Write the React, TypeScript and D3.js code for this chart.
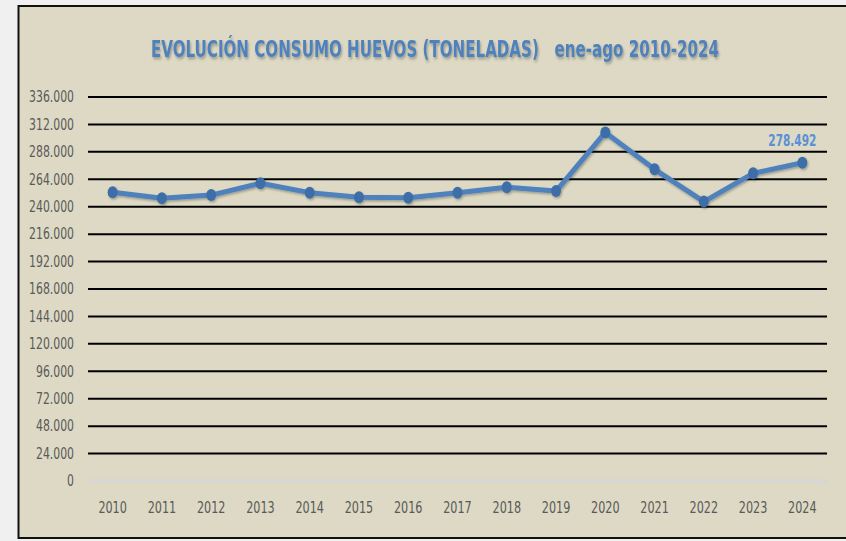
import React from 'react';
import * as d3 from 'd3';

const years = ["2010", "2011", "2012", "2013", "2014", "2015", "2016", "2017", "2018", "2019", "2020", "2021", "2022", "2023", "2024"];
const tons = [252600, 247400, 250200, 260500, 252300, 248200, 247900, 252200, 257000, 253700, 305000, 272700, 244500, 269200, 278492];
const yTicks = [0, 24000, 48000, 72000, 96000, 120000, 144000, 168000, 192000, 216000, 240000, 264000, 288000, 312000, 336000];

const W = 846;
const H = 541;
const font = "'Liberation Sans Narrow', 'DejaVu Sans Condensed', 'Arial Narrow', sans-serif";

// 24000 -> "24.000"
const fmt = (v: number) => v === 0 ? "0" : d3.format(",")(v).replace(/,/g, ".");
// narrow width like Calibri's digits
const numWidth = (s: string) => s.replace(/\./g, "").length * 6.9 + (s.includes(".") ? 3.5 : 0);

function App() {
    const left = 88, right = 827, top = 97, bottom = 481;

    const x = d3.scaleBand<string>()
        .domain(years)
        .range([left, right]);

    const y = d3.scaleLinear()
        .domain([0, 336000])
        .range([bottom, top]);

    const cx = (d: string) => (x(d) as number) + x.bandwidth() / 2;

    const line = d3.line<number>()
        .x((_, i) => cx(years[i]))
        .y(d => y(d));

    const last = tons.length - 1;

    return (
        <svg width={W} height={H} style={{ position: 'fixed', left: 0, top: 0 }}>
            <defs>
                <filter id="sh" x="-10%" y="-30%" width="120%" height="160%">
                    <feDropShadow dx="1" dy="1.5" stdDeviation="1" floodColor="#000" floodOpacity="0.3" />
                </filter>
            </defs>
            <rect x={0} y={0} width={W} height={H} fill="#f0f0f0" />
            <rect x={18.5} y={6} width={840} height={532} fill="#ddd9c4" stroke="#111" strokeWidth={2} />

            {/* title: small font stretched vertically so it keeps the narrow look */}
            <g transform="translate(435,57) scale(1,1.4)" filter="url(#sh)">
                <text x={0} y={0} textAnchor="middle" fontFamily={font} fontWeight="bold" fontSize={17}
                    fill="#4f81bd" textLength={568} lengthAdjust="spacingAndGlyphs">
                    EVOLUCIÓN CONSUMO HUEVOS (TONELADAS)&#160;&#160; ene-ago 2010-2024
                </text>
            </g>

            {yTicks.map(t => (
                <g key={t}>
                    <line x1={left} x2={right} y1={y(t)} y2={y(t)}
                        stroke={t === 0 ? "#d6d6d6" : "#000"} strokeWidth={t === 0 ? 3 : 2} />
                    <text x={74} y={y(t)} dy="0.35em" textAnchor="end" fontFamily={font} fontSize={15} fill="#595959"
                        textLength={numWidth(fmt(t))} lengthAdjust="spacingAndGlyphs">
                        {fmt(t)}
                    </text>
                </g>
            ))}

            {years.map(d => (
                <text key={d} x={cx(d)} y={508} dy="0.35em" textAnchor="middle" fontFamily={font} fontSize={15} fill="#595959"
                    textLength={28.5} lengthAdjust="spacingAndGlyphs">
                    {d}
                </text>
            ))}

            <g filter="url(#sh)">
                <path d={line(tons) || ""} fill="none" stroke="#4f81bd" strokeWidth={5} strokeLinejoin="round" />
                {tons.map((v, i) => (
                    <ellipse key={i} cx={cx(years[i])} cy={y(v)} rx={5} ry={6} fill="#3d6ea8" />
                ))}
            </g>

            <text x={cx(years[last]) - 10} y={y(tons[last]) - 22} dy="0.35em" textAnchor="middle"
                fontFamily={font} fontWeight="bold" fontSize={16} fill="#5b8fd6"
                textLength={48} lengthAdjust="spacingAndGlyphs">
                {fmt(tons[last])}
            </text>
        </svg>
    );
}

export default App;
